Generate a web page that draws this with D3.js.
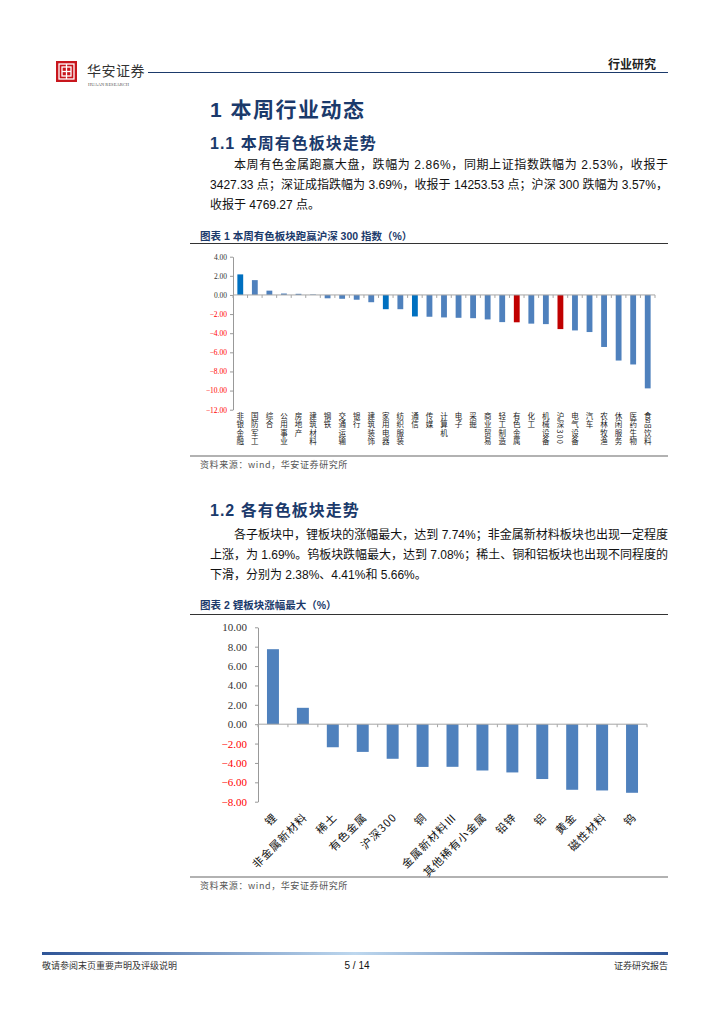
<!DOCTYPE html>
<html><head><meta charset="utf-8">
<script src="https://cdn.jsdelivr.net/npm/d3@7"></script>
<style>
body{margin:0;background:#fff;}
svg{display:block;}
</style></head>
<body>
<script>
// ---------- DATA ----------
const cats1 = ['非银金融','国防军工','综合','公用事业','房地产','建筑材料','钢铁','交通运输','银行','建筑装饰','家用电器','纺织服装','通信','传媒','计算机','电子','采掘','商业贸易','轻工制造','有色金属','化工','机械设备','沪深300','电气设备','汽车','农林牧渔','休闲服务','医药生物','食品饮料'];
const vals1 = [2.15,1.55,0.45,0.15,0.12,0.05,-0.35,-0.40,-0.50,-0.76,-1.49,-1.49,-2.25,-2.28,-2.35,-2.39,-2.43,-2.56,-2.84,-2.86,-3.00,-3.05,-3.57,-3.71,-3.88,-5.44,-6.86,-7.27,-9.77];
const darkCats1 = ['非银金融','家用电器','通信'];
const redCats1 = ['有色金属','沪深300'];
const ticks1 = [-12,-10,-8,-6,-4,-2,0,2,4];

const cats2 = ['锂','非金属新材料','稀土','有色金属','沪深300','铜','金属新材料Ⅲ','其他稀有小金属','铅锌','铝','黄金','磁性材料','钨'];
const vals2 = [7.74,1.69,-2.38,-2.86,-3.57,-4.41,-4.40,-4.78,-4.98,-5.66,-6.77,-6.84,-7.08];
const ticks2 = [-8,-6,-4,-2,0,2,4,6,8,10];

// ---------- PAGE ----------
const CJK = "'Noto Sans CJK SC','Liberation Sans',sans-serif";
const HEAD = "'Liberation Sans','Noto Sans CJK SC',sans-serif";
const SERIF = "'Liberation Serif','Times New Roman',serif";
const NAVY = '#1B3A6B';
const svg = d3.select('body').append('svg').attr('width',724).attr('height',1024);

// header logo
const logo = svg.append('g').attr('transform','translate(56,61)');
logo.append('rect').attr('width',21).attr('height',21).attr('fill','#C8161D');
logo.append('rect').attr('x',3).attr('y',3).attr('width',15).attr('height',15).attr('fill','none').attr('stroke','#fff').attr('stroke-width',1.3);
logo.append('rect').attr('x',6).attr('y',6).attr('width',9).attr('height',9).attr('fill','none').attr('stroke','#fff').attr('stroke-width',1.3);
logo.append('line').attr('x1',10.5).attr('x2',10.5).attr('y1',3).attr('y2',18).attr('stroke','#fff').attr('stroke-width',1.3);
logo.append('line').attr('x1',6).attr('x2',15).attr('y1',10.5).attr('y2',10.5).attr('stroke','#fff').attr('stroke-width',1.3);
svg.append('text').attr('x',87).attr('y',76).attr('font-family',CJK).attr('font-size',14).attr('fill','#333').attr('letter-spacing',0.5).text('华安证券');
svg.append('text').attr('x',88).attr('y',86).attr('font-family',SERIF).attr('font-size',4.5).attr('fill','#555').text('HUAAN RESEARCH');
svg.append('line').attr('x1',148).attr('x2',668).attr('y1',72.5).attr('y2',72.5).attr('stroke',NAVY).attr('stroke-width',1);
svg.append('text').attr('x',656).attr('y',69).attr('text-anchor','end').attr('font-family',CJK).attr('font-weight','bold').attr('font-size',12).attr('fill','#222').text('行业研究');

// headings
svg.append('text').attr('x',210).attr('y',117).attr('font-family',HEAD).attr('font-weight','bold').attr('font-size',21).attr('letter-spacing',1.5).attr('fill',NAVY).text('1 本周行业动态');
svg.append('text').attr('x',210).attr('y',149).attr('font-family',HEAD).attr('font-weight','bold').attr('font-size',16).attr('letter-spacing',1).attr('fill',NAVY).text('1.1 本周有色板块走势');
svg.append('text').attr('x',210).attr('y',516).attr('font-family',HEAD).attr('font-weight','bold').attr('font-size',16).attr('letter-spacing',1).attr('fill',NAVY).text('1.2 各有色板块走势');

function para(lines, y0){
  lines.forEach((l,i)=>{
    const t = svg.append('text').attr('x', i===0?234:210).attr('y', y0+i*20)
      .attr('font-family',HEAD).attr('font-size',12).attr('fill','#111').text(l);
    if(i<lines.length-1) t.attr('textLength', i===0?434:458).attr('lengthAdjust','spacing');
  });
}
para(['本周有色金属跑赢大盘，跌幅为 2.86%，同期上证指数跌幅为 2.53%，收报于',
      '3427.33 点；深证成指跌幅为 3.69%，收报于 14253.53 点；沪深 300 跌幅为 3.57%，',
      '收报于 4769.27 点。'], 169);
para(['各子板块中，锂板块的涨幅最大，达到 7.74%；非金属新材料板块也出现一定程度',
      '上涨，为 1.69%。钨板块跌幅最大，达到 7.08%；稀土、铜和铝板块也出现不同程度的',
      '下滑，分别为 2.38%、4.41%和 5.66%。'], 539);

// chart titles & frames
function frame(title, yTitle, yTop, yBot){
  svg.append('text').attr('x',200).attr('y',yTitle).attr('font-family',HEAD).attr('font-weight','bold').attr('font-size',10.5).attr('fill',NAVY).text(title);
  svg.append('line').attr('x1',190).attr('x2',668).attr('y1',yTop).attr('y2',yTop).attr('stroke','#333').attr('stroke-width',1);
  svg.append('line').attr('x1',190).attr('x2',668).attr('y1',yBot).attr('y2',yBot).attr('stroke','#999').attr('stroke-width',1.6);
  svg.append('text').attr('x',200).attr('y',yBot+12).attr('font-family',CJK).attr('font-size',9).attr('fill','#555').attr('letter-spacing',0.6).text('资料来源：wind，华安证券研究所');
}
frame('图表 1 本周有色板块跑赢沪深 300 指数（%）', 240, 243.5, 456);
frame('图表 2 锂板块涨幅最大（%）', 609, 614.5, 877);

// ---------- CHART 1 ----------
const x1 = d3.scaleBand().domain(cats1).range([233,655]);
const y1 = d3.scaleLinear().domain([-12,4]).range([409.7,256.7]);
const c1 = svg.append('g');
const ax1 = c1.append('g').attr('transform','translate(233,0)')
  .call(d3.axisLeft(y1).tickValues(ticks1).tickFormat(d3.format('.2f')).tickSize(3).tickSizeOuter(0));
ax1.select('.domain').attr('stroke','#999');
ax1.selectAll('.tick line').attr('stroke','#999');
ax1.selectAll('.tick text').attr('font-family',SERIF).attr('font-size',7.5).attr('x',-6)
  .attr('fill',d=>d<0?'#FF0000':'#333');
c1.selectAll('rect.bar').data(cats1).join('rect').attr('class','bar')
  .attr('x',d=>x1(d)+x1.bandwidth()*0.3).attr('width',x1.bandwidth()*0.4)
  .attr('y',(d,i)=>y1(Math.max(0,vals1[i]))).attr('height',(d,i)=>Math.abs(y1(vals1[i])-y1(0)))
  .attr('fill',d=>redCats1.includes(d)?'#C00000':(darkCats1.includes(d)?'#0070C0':'#4F81BD'));
c1.append('line').attr('x1',233).attr('x2',655).attr('y1',y1(0)).attr('y2',y1(0)).attr('stroke','#A6A6A6');
c1.selectAll('line.bt').data(cats1.concat(['_end'])).join('line').attr('class','bt')
  .attr('x1',(d,i)=>233+i*x1.step()).attr('x2',(d,i)=>233+i*x1.step())
  .attr('y1',y1(0)).attr('y2',y1(0)+3).attr('stroke','#A6A6A6');
// vertical category labels (one text element each, vertical writing mode)
c1.selectAll('text.cl').data(cats1).join('text').attr('class','cl')
  .attr('x',d=>x1(d)+x1.bandwidth()/2).attr('y',412)
  .style('writing-mode','vertical-rl').attr('font-family',CJK).attr('font-size',7.5)
  .attr('letter-spacing',1.1).attr('fill','#222').text(d=>d);

// ---------- CHART 2 ----------
const x2 = d3.scaleBand().domain(cats2).range([258,647]);
const y2 = d3.scaleLinear().domain([-8,10]).range([801.7,627.3]);
const c2 = svg.append('g');
const ax2 = c2.append('g').attr('transform','translate(258,0)')
  .call(d3.axisLeft(y2).tickValues(ticks2).tickFormat(d3.format('.2f')).tickSize(3).tickSizeOuter(0));
ax2.select('.domain').attr('stroke','#999');
ax2.selectAll('.tick line').attr('stroke','#999');
ax2.selectAll('.tick text').attr('font-family',SERIF).attr('font-size',11).attr('x',-11)
  .attr('fill',d=>d<0?'#FF0000':'#333');
c2.selectAll('rect.bar').data(cats2).join('rect').attr('class','bar')
  .attr('x',d=>x2(d)+x2.bandwidth()*0.3).attr('width',x2.bandwidth()*0.4)
  .attr('y',(d,i)=>y2(Math.max(0,vals2[i]))).attr('height',(d,i)=>Math.abs(y2(vals2[i])-y2(0)))
  .attr('fill','#4F81BD');
c2.append('line').attr('x1',258).attr('x2',647).attr('y1',y2(0)).attr('y2',y2(0)).attr('stroke','#A6A6A6');
c2.selectAll('line.bt').data(cats2.concat(['_end'])).join('line').attr('class','bt')
  .attr('x1',(d,i)=>258+i*x2.step()).attr('x2',(d,i)=>258+i*x2.step())
  .attr('y1',y2(0)).attr('y2',y2(0)+3).attr('stroke','#A6A6A6');
c2.selectAll('text.cl').data(cats2).join('text').attr('class','cl')
  .attr('transform',d=>`translate(${x2(d)+x2.bandwidth()/2+5},818) rotate(-45)`)
  .attr('text-anchor','end').attr('font-family',CJK).attr('font-size',11).attr('letter-spacing',1)
  .attr('fill','#111').text(d=>d);

// ---------- FOOTER ----------
const defs = svg.append('defs');
const gr = defs.append('linearGradient').attr('id','fg');
gr.append('stop').attr('offset','0%').attr('stop-color','#2F5597');
gr.append('stop').attr('offset','50%').attr('stop-color','#BDD7EE');
gr.append('stop').attr('offset','100%').attr('stop-color','#2F5597');
svg.append('rect').attr('x',42).attr('y',952).attr('width',626).attr('height',3).attr('fill','url(#fg)');
svg.append('text').attr('x',42).attr('y',969).attr('font-family',CJK).attr('font-size',9).attr('fill','#333').text('敬请参阅末页重要声明及评级说明');
svg.append('text').attr('x',357).attr('y',969).attr('text-anchor','middle').attr('font-family',HEAD).attr('font-size',10).attr('fill','#111').text('5 / 14');
svg.append('text').attr('x',668).attr('y',969).attr('text-anchor','end').attr('font-family',CJK).attr('font-size',9).attr('fill','#333').text('证券研究报告');
</script>
</body></html>
